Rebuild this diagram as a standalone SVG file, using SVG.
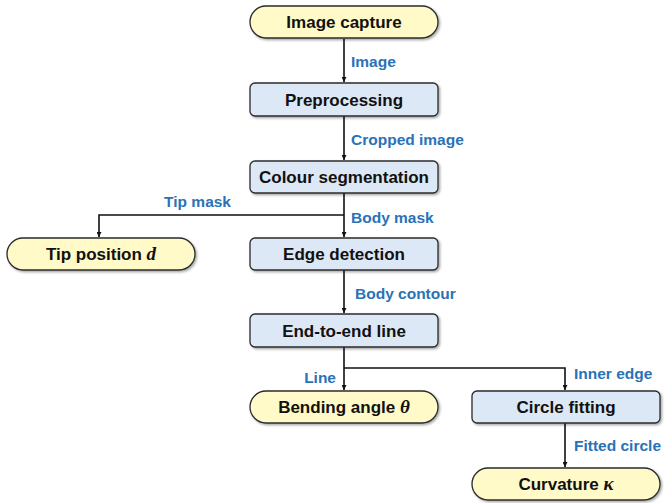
<svg xmlns="http://www.w3.org/2000/svg" width="665" height="503" viewBox="0 0 665 503">
  <defs>
    <filter id="shadow" x="-10%" y="-30%" width="120%" height="170%">
      <feDropShadow dx="1.5" dy="1.5" stdDeviation="1.2" flood-color="#000" flood-opacity="0.35"/>
    </filter>
    <marker id="arrow" viewBox="0 0 10 10" refX="10" refY="5" markerWidth="5" markerHeight="5" orient="auto" markerUnits="userSpaceOnUse">
      <path d="M0,0 L10,5 L0,10 z" fill="#111"/>
    </marker>
    <style>
      .term { fill: #FFFAC8; stroke: #2b2b2b; stroke-width: 1.3; filter: url(#shadow); }
      .proc { fill: #DCE8F6; stroke: #2b2b2b; stroke-width: 1.3; filter: url(#shadow); }
      .node-text { font-family: "Liberation Sans", Arial, sans-serif; font-weight: bold; font-size: 17px; fill: #111; text-anchor: middle; }
      .var { font-family: "Liberation Serif", "DejaVu Serif", serif; font-style: italic; font-weight: bold; }
      .label { font-family: "Liberation Sans", Arial, sans-serif; font-weight: bold; font-size: 15.5px; fill: #2A72B8; }
      .conn { fill: none; stroke: #111; stroke-width: 1.6; }
    </style>
  </defs>

  <g id="connectors">
    <path class="conn" d="M344,39 V82" marker-end="url(#arrow)"/>
    <path class="conn" d="M344,116 V160" marker-end="url(#arrow)"/>
    <path class="conn" d="M344,193 V237" marker-end="url(#arrow)"/>
    <path class="conn" d="M344,215 H99 V237" marker-end="url(#arrow)"/>
    <path class="conn" d="M344,270 V313" marker-end="url(#arrow)"/>
    <path class="conn" d="M344,347 V390" marker-end="url(#arrow)"/>
    <path class="conn" d="M344,368 H565 V390" marker-end="url(#arrow)"/>
    <path class="conn" d="M565,423 V467" marker-end="url(#arrow)"/>
  </g>

  <g id="edge-labels">
    <text class="label" x="351" y="67">Image</text>
    <text class="label" x="351" y="145">Cropped image</text>
    <text class="label" x="231" y="207" text-anchor="end">Tip mask</text>
    <text class="label" x="351" y="223">Body mask</text>
    <text class="label" x="355" y="299">Body contour</text>
    <text class="label" x="336" y="383" text-anchor="end">Line</text>
    <text class="label" x="574" y="379">Inner edge</text>
    <text class="label" x="574" y="451">Fitted circle</text>
  </g>

  <g id="image-capture">
    <rect class="term" x="250" y="6" width="188" height="32" rx="16"/>
    <text class="node-text" x="344" y="28">Image capture</text>
  </g>
  <g id="preprocessing">
    <rect class="proc" x="250" y="83" width="188" height="33" rx="5"/>
    <text class="node-text" x="344" y="105.5">Preprocessing</text>
  </g>
  <g id="colour-segmentation">
    <rect class="proc" x="250" y="161" width="188" height="32" rx="5"/>
    <text class="node-text" x="344" y="183">Colour segmentation</text>
  </g>
  <g id="tip-position">
    <rect class="term" x="7" y="238" width="188" height="32" rx="16"/>
    <text class="node-text" x="101" y="260">Tip position <tspan class="var" font-size="19">d</tspan></text>
  </g>
  <g id="edge-detection">
    <rect class="proc" x="250" y="238" width="188" height="32" rx="5"/>
    <text class="node-text" x="344" y="260">Edge detection</text>
  </g>
  <g id="end-to-end-line">
    <rect class="proc" x="250" y="314" width="188" height="33" rx="5"/>
    <text class="node-text" x="344" y="336.5">End-to-end line</text>
  </g>
  <g id="bending-angle">
    <rect class="term" x="250" y="391" width="188" height="32" rx="16"/>
    <text class="node-text" x="344" y="413">Bending angle <tspan class="var" font-size="19">θ</tspan></text>
  </g>
  <g id="circle-fitting">
    <rect class="proc" x="472" y="391" width="188" height="32" rx="5"/>
    <text class="node-text" x="566" y="413">Circle fitting</text>
  </g>
  <g id="curvature">
    <rect class="term" x="472" y="468" width="188" height="32" rx="16"/>
    <text class="node-text" x="566" y="490">Curvature <tspan class="var" font-size="19">κ</tspan></text>
  </g>
</svg>
